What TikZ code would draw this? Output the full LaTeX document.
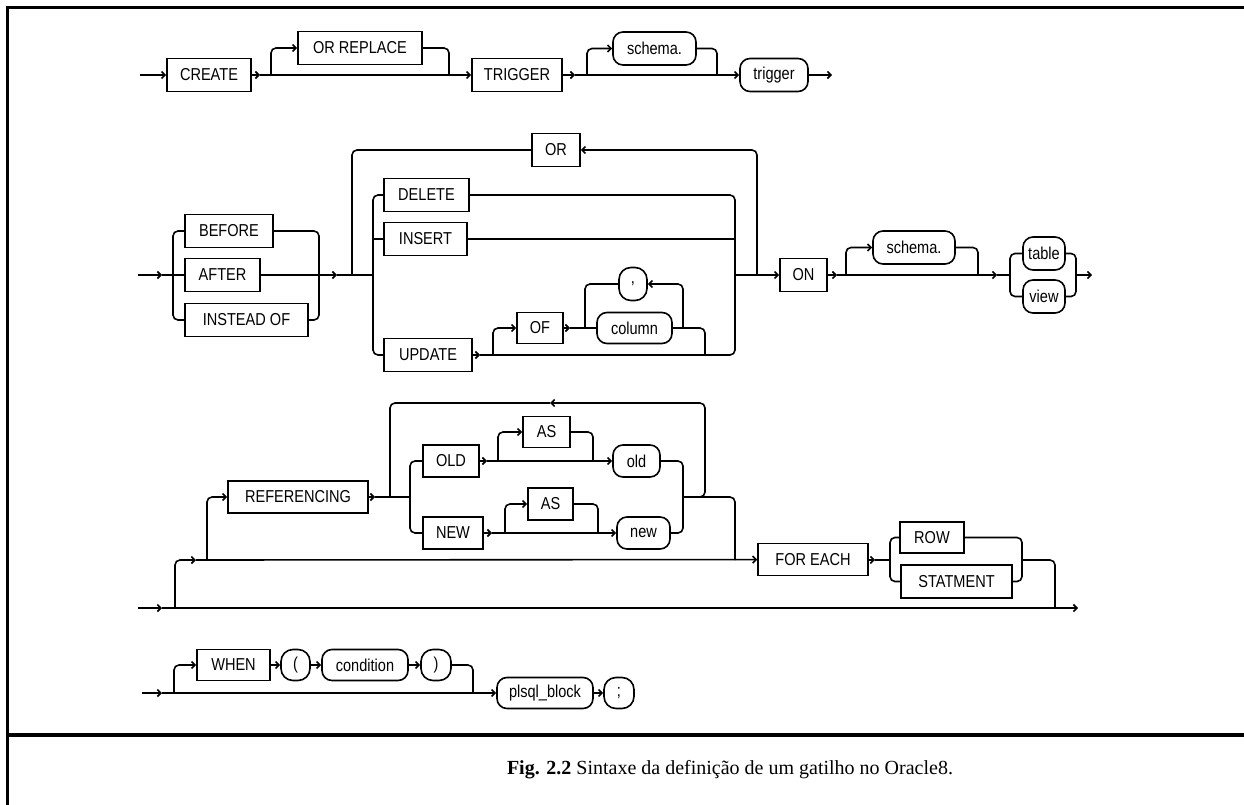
\documentclass[tikz,border=0pt]{standalone}
\usepackage{fontspec}
\usepackage{graphicx}
\setmainfont{Liberation Serif}
\newfontfamily\dfontfam{Liberation Sans}
\newcommand\dfnt{\dfontfam\fontsize{15pt}{17pt}\selectfont}
\newcommand\lbl[1]{\scalebox{0.97}[1.15]{#1}}
\usetikzlibrary{arrows.meta}
\begin{document}
\begin{tikzpicture}[x=1pt,y=-1pt,
  ln/.style={line width=1.6pt},
  ar/.style={-{Straight Barb[length=3.5pt,width=7pt]}},
  rc/.style={rounded corners=5pt},
  kw/.style={draw,line width=1.6pt,rectangle,minimum height=33pt,inner sep=1pt,font=\dfnt},
  ov/.style={draw,line width=1.6pt,rectangle,rounded corners=10pt,minimum height=33pt,inner sep=1pt,font=\dfnt},
  sm/.style={draw,line width=1.6pt,rectangle,rounded corners=12pt,minimum height=33pt,minimum width=30pt,inner sep=1pt,font=\dfnt}]
\useasboundingbox[fill=white] (0,0) rectangle (1244,805);
% frame
\draw[line width=3pt] (7.5,805) -- (7.5,7.5) -- (1244,7.5);
\draw[line width=4pt] (7.5,735) -- (1244,735);
\node[font=\fontsize{20pt}{24pt}\selectfont] (cap) at (730,770) {\textbf{Fig. 2.2} Sintaxe da definição de um gatilho no Oracle8.};

% ---------- Row 1 ----------
\node[kw,minimum width=84pt] (CREATE) at (209,75) {\lbl{CREATE}};
\node[kw,minimum width=124pt] (ORREP) at (360,48) {\lbl{OR REPLACE}};
\node[kw,minimum width=90pt] (TRIGGER) at (517,75) {\lbl{TRIGGER}};
\node[ov,minimum width=83pt] (schemaA) at (654.5,48.5) {\lbl{schema.}};
\node[ov,minimum width=68pt] (trig) at (774,75) {\lbl{trigger}};
\coordinate (s1) at (140,75);
\coordinate (a1) at (260,75);
\coordinate (b1) at (271,75);
\coordinate (b1r) at (449,75);
\coordinate (a2) at (575,75);
\coordinate (b2) at (587,75);
\coordinate (b2r) at (717,75);
\coordinate (e1) at (832,75);
\draw[ln,ar] (s1) -- (CREATE);
\draw[ln,ar] (CREATE) -- (a1);
\draw[ln,ar] (a1) -- (TRIGGER);
\draw[ln,ar,rc] (b1) |- (ORREP);
\draw[ln,rc] (ORREP) -| (b1r);
\draw[ln,ar] (TRIGGER) -- (a2);
\draw[ln,ar] (a2) -- (trig);
\draw[ln,ar,rc] (b2) |- (schemaA);
\draw[ln,rc] (schemaA) -| (b2r);
\draw[ln,ar] (trig) -- (e1);

% ---------- Row 2 ----------
\node[kw,minimum width=88pt] (BEFORE) at (229,231) {\lbl{BEFORE}};
\node[kw,minimum width=75pt] (AFTER) at (222.5,275) {\lbl{AFTER}};
\node[kw,minimum width=123pt] (INSTEAD) at (246.5,320) {\lbl{INSTEAD OF}};
\node[kw,minimum width=48pt] (OR) at (556,150) {\lbl{OR}};
\node[kw,minimum width=85pt] (DELETE) at (426.5,195) {\lbl{DELETE}};
\node[kw,minimum width=83pt] (INSERT) at (425.5,239) {\lbl{INSERT}};
\node[kw,minimum width=88pt] (UPDATE) at (428,355) {\lbl{UPDATE}};
\node[kw,minimum width=46pt,minimum height=31pt] (OF) at (540,328) {\lbl{OF}};
\node[ov,minimum width=75pt,minimum height=31pt] (column) at (634.5,328) {\lbl{column}};
\node[sm,minimum width=28pt] (comma) at (633,284) {\lbl{,}};
\node[kw,minimum width=47pt] (ON) at (803.5,275) {\lbl{ON}};
\node[ov,minimum width=82pt] (schemaB) at (914,247.5) {\lbl{schema.}};
\node[ov,minimum width=42pt] (table) at (1044,253.5) {\lbl{table}};
\node[ov,minimum width=42pt] (view) at (1044,296.5) {\lbl{view}};
\coordinate (s2) at (138,275);
\coordinate (a3) at (162,275);
\coordinate (b3) at (173,275);
\coordinate (m3) at (319,275);
\coordinate (a4) at (337,275);
\coordinate (lp) at (352,275);
\coordinate (b4) at (373,275);
\coordinate (m4) at (735,275);
\coordinate (lpr) at (757,275);
\coordinate (u1) at (480,355);
\coordinate (u2) at (493,355);
\coordinate (u3) at (570,328);
\coordinate (cl) at (585,328);
\coordinate (cr) at (683,328);
\coordinate (cd) at (705,355);
\coordinate (a5) at (837,275);
\coordinate (b5) at (846,275);
\coordinate (m5) at (978,275);
\coordinate (a6) at (997,275);
\coordinate (b6) at (1010,275);
\coordinate (m6) at (1076,275);
\coordinate (e2) at (1092,275);
\draw[ln,ar] (s2) -- (a3);
\draw[ln] (a3) -- (AFTER);
\draw[ln,rc] (b3) |- (BEFORE);
\draw[ln,rc] (b3) |- (INSTEAD);
\draw[ln,rc] (BEFORE) -| (m3);
\draw[ln,rc] (INSTEAD) -| (m3);
\draw[ln] (AFTER) -- (m3);
\draw[ln,ar] (m3) -- (a4);
\draw[ln] (a4) -- (b4);
\draw[ln,ar,rc] (lpr) |- (OR);
\draw[ln,rc] (OR) -| (lp);
\draw[ln,rc] (b4) |- (DELETE);
\draw[ln,rc] (b4) |- (UPDATE);
\draw[ln] (b4 |- INSERT) -- (INSERT);
\draw[ln,rc] (DELETE) -| (m4);
\draw[ln] (INSERT) -- (m4 |- INSERT);
\draw[ln,ar] (UPDATE) -- (u1);
\draw[ln,rc] (u1) -| (m4);
\draw[ln,ar,rc] (u2) |- (OF);
\draw[ln,ar] (OF) -- (u3);
\draw[ln] (u3) -- (column);
\draw[ln,ar,rc] (cr) |- (comma);
\draw[ln,rc] (comma) -| (cl);
\draw[ln,rc] (column) -| (cd);
\draw[ln,ar] (m4) -- (ON);
\draw[ln,ar] (ON) -- (a5);
\draw[ln,ar] (a5) -- (a6);
\draw[ln] (a6) -- (b6);
\draw[ln,ar,rc] (b5) |- (schemaB);
\draw[ln,rc] (schemaB) -| (m5);
\draw[ln,rc] (b6) |- (table);
\draw[ln,rc] (b6) |- (view);
\draw[ln,rc] (table) -| (m6);
\draw[ln,rc] (view) -| (m6);
\draw[ln,ar] (m6) -- (e2);

% ---------- Row 3 ----------
\node[kw,minimum width=140pt,minimum height=32pt] (REF) at (298,497) {\lbl{REFERENCING}};
\node[kw,minimum width=56pt,minimum height=32pt] (OLD) at (451,461) {\lbl{OLD}};
\node[kw,minimum width=60pt,minimum height=32pt] (NEW) at (453,533) {\lbl{NEW}};
\node[kw,minimum width=47pt,minimum height=31pt] (AS1) at (546.5,432) {\lbl{AS}};
\node[kw,minimum width=45pt,minimum height=32pt] (AS2) at (550.5,504) {\lbl{AS}};
\node[ov,minimum width=47pt,minimum height=32pt] (old) at (636.5,461) {\lbl{old}};
\node[ov,minimum width=53pt,minimum height=32pt] (new) at (643.5,533) {\lbl{new}};
\node[kw,minimum width=110pt,minimum height=32pt] (FOREACH) at (813,559.5) {\lbl{FOR EACH}};
\node[kw,minimum width=64pt,minimum height=31pt] (ROW) at (932,537.5) {\lbl{ROW}};
\node[kw,minimum width=111pt,minimum height=33pt] (STAT) at (956.5,581.5) {\lbl{STATMENT}};
\coordinate (s3) at (138,608);
\coordinate (a7) at (162,608);
\coordinate (b7) at (175,608);
\coordinate (a8) at (196,560);
\coordinate (b8) at (207,560);
\coordinate (a9) at (375,497);
\coordinate (lq) at (390,497);
\coordinate (b9) at (410,497);
\coordinate (o1) at (487,461);
\coordinate (o2) at (498,461);
\coordinate (o3) at (593,461);
\coordinate (n1) at (492,533);
\coordinate (n2) at (505,533);
\coordinate (n3) at (598,533);
\coordinate (m9) at (683,497);
\coordinate (lqr) at (705,403);
\coordinate (lqa) at (550,403);
\coordinate (m10) at (735,560);
\coordinate (a10) at (875,560);
\coordinate (b10) at (890,560);
\coordinate (m11) at (1022,560);
\coordinate (m12) at (1055,608);
\coordinate (e3) at (1078,608);
\draw[ln,ar] (s3) -- (a7);
\draw[ln,ar] (a7) -- (e3);
\draw[ln,ar,rc] (b7) |- (a8);
\draw[ln,ar] (a8) -- (FOREACH);
\draw[ln,ar,rc] (b8) |- (REF);
\draw[ln,ar] (REF) -- (a9);
\draw[ln] (a9) -- (b9);
\draw[ln,rc] (b9) |- (OLD);
\draw[ln,rc] (b9) |- (NEW);
\draw[ln,ar] (OLD) -- (o1);
\draw[ln,ar] (o1) -- (old);
\draw[ln,ar,rc] (o2) |- (AS1);
\draw[ln,rc] (AS1) -| (o3);
\draw[ln,ar] (NEW) -- (n1);
\draw[ln,ar] (n1) -- (new);
\draw[ln,ar,rc] (n2) |- (AS2);
\draw[ln,rc] (AS2) -| (n3);
\draw[ln,rc] (old) -| (m9);
\draw[ln,rc] (new) -| (m9);
\draw[ln,ar,rc] (m9) -| (lqr) -- (lqa);
\draw[ln,rc] (lqa) -| (lq);
\draw[ln,rc] (m9) -| (m10);
\draw[ln,ar] (FOREACH) -- (a10);
\draw[ln] (a10) -- (b10);
\draw[ln,rc] (b10) |- (ROW);
\draw[ln,rc] (b10) |- (STAT);
\draw[ln,rc] (ROW) -| (m11);
\draw[ln,rc] (STAT) -| (m11);
\draw[ln,rc] (m11) -| (m12);

% ---------- Row 4 ----------
\node[kw,minimum width=73pt,minimum height=31pt] (WHEN) at (233.5,665) {\lbl{WHEN}};
\node[sm,minimum width=29pt,minimum height=31pt] (lpar) at (295.5,665) {\lbl{(}};
\node[ov,minimum width=86pt,minimum height=31pt] (cond) at (365,665) {\lbl{condition}};
\node[sm,minimum width=30pt,minimum height=31pt] (rpar) at (436,665) {\lbl{)}};
\node[ov,minimum width=96pt,minimum height=31pt] (plsql) at (545,693) {\lbl{plsql\_block}};
\node[sm,minimum width=30pt,minimum height=31pt] (semi) at (619,693) {\lbl{;}};
\coordinate (s4) at (142,693);
\coordinate (a11) at (162,693);
\coordinate (b11) at (174,693);
\coordinate (m13) at (473,693);
\draw[ln,ar] (s4) -- (a11);
\draw[ln,ar] (a11) -- (plsql);
\draw[ln,ar,rc] (b11) |- (WHEN);
\draw[ln,ar] (WHEN) -- (lpar);
\draw[ln,ar] (lpar) -- (cond);
\draw[ln,ar] (cond) -- (rpar);
\draw[ln,rc] (rpar) -| (m13);
\draw[ln,ar] (plsql) -- (semi);
\end{tikzpicture}
\end{document}
